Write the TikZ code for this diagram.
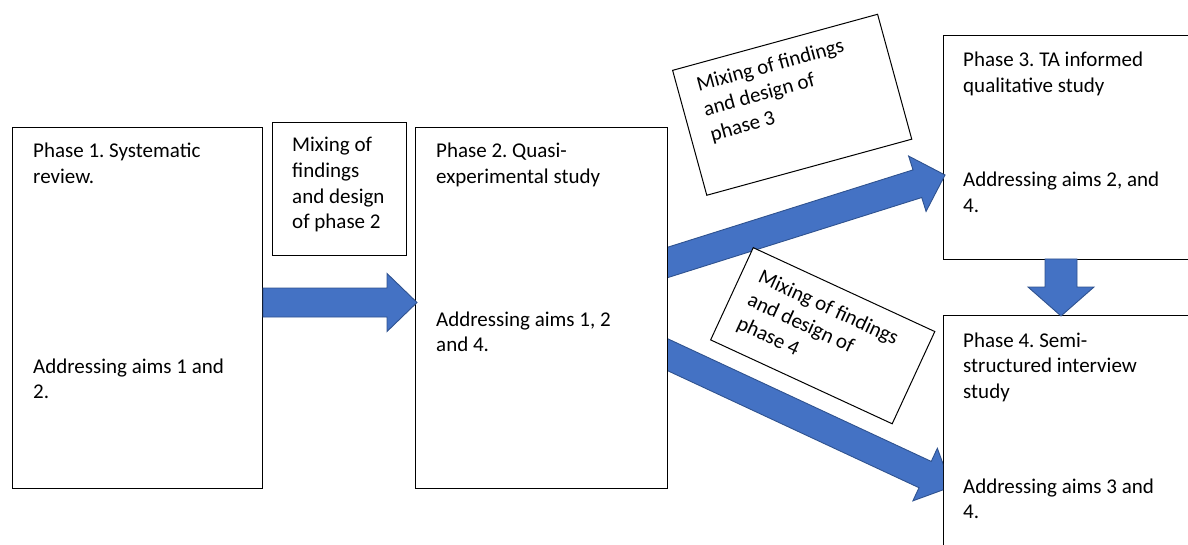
\documentclass[tikz,border=0pt]{standalone}
\usepackage{fontspec}
\setmainfont{Carlito}
\frenchspacing
\usetikzlibrary{calc}
\definecolor{arrowfill}{HTML}{4472C4}
\definecolor{arrowline}{HTML}{2F528F}
\tikzset{
  box/.style={draw=black, line width=1pt, fill=white, rectangle, inner sep=0pt, anchor=north west},
  txt/.style={font=\fontsize{21}{25.6}\selectfont\frenchspacing, align=left, inner sep=0pt, anchor=base west},
  bluearr/.style={fill=arrowfill, draw=arrowline, line width=0.9pt, line join=miter},
}
% #1 tail, #2 tip, #3 shaft half width, #4 head half width, #5 head length
\newcommand\bluearrow[5]{%
  \coordinate (#1#2c) at ($(#2)!#5!(#1)$);
  \draw[bluearr] ($(#1)!#3!90:(#2)$) -- ($(#1#2c)!#3!90:(#2)$) -- ($(#1#2c)!#4!90:(#2)$)
    -- (#2) -- ($(#1#2c)!#4!-90:(#2)$) -- ($(#1#2c)!#3!-90:(#2)$) -- ($(#1)!#3!-90:(#2)$) -- cycle;
}
\begin{document}
\begin{tikzpicture}[x=1pt, y=-1pt]
\useasboundingbox (0,0) rectangle (1188,545);
\clip (0,0) rectangle (1188,545);

% phase boxes
\node[box, minimum width=250pt, minimum height=361pt] (p1) at (12,127) {};
\node[box, minimum width=252pt, minimum height=361pt] (p2) at (415,127) {};
\node[box, minimum width=134pt, minimum height=133pt] (m2) at (272,122) {};
\node[box, minimum width=300pt, minimum height=224pt] (p3) at (943,35) {};
\node[box, minimum width=300pt, minimum height=260pt] (p4) at (943,315) {};

% texts (anchor = baseline of the last line)
\node[txt] (p1t) at (33,183.6) {Phase 1. Systematic\\review.};
\node[txt] (p1a) at (33,398.6) {Addressing aims 1 and\\2.};
\node[txt] (p2t) at (436,183.6) {Phase 2. Quasi-\\experimental study};
\node[txt] (p2a) at (436,351.6) {Addressing aims 1, 2\\and 4.};
\node[txt] (m2t) at (292,228.8) {Mixing of\\findings\\and design\\of phase 2};
\node[txt] (p3t) at (963,92.6) {Phase 3. TA informed\\qualitative study};
\node[txt] (p3a) at (963,212.6) {Addressing aims 2, and\\4.};
\node[txt] (p4t) at (963,398.2) {Phase 4. Semi-\\structured interview\\study};
\node[txt] (p4a) at (963,518.6) {Addressing aims 3 and\\4.};

% arrows
\coordinate (a1s) at (p1.east |- 0,302.5);
\coordinate (a1e) at (417,302.5);
\bluearrow{a1s}{a1e}{14.5pt}{29pt}{30pt}

\coordinate (a2s) at (650,268);
\coordinate (a2e) at (945,175);
\begin{scope}
  \clip (p2.north east) rectangle (p4.south east);
  \bluearrow{a2s}{a2e}{14.5pt}{29pt}{29pt}
\end{scope}

\coordinate (a3s) at (650,346.5);
\coordinate (a3e) at (951.4,486.8);
\begin{scope}
  \clip (p2.north east) rectangle (p4.south west);
  \bluearrow{a3s}{a3e}{14.5pt}{29pt}{29pt}
\end{scope}

\coordinate (a4s) at (1061,259);
\coordinate (a4e) at (1061,316);
\bluearrow{a4s}{a4e}{16pt}{33pt}{29pt}

% rotated mixing boxes
\begin{scope}[shift={(672,70)}, rotate=15.3, transform shape]
  \node[box, minimum width=212.5pt, minimum height=129.5pt] (m3) at (0,0) {};
  \node[txt] (m3t) at (20,79.2) {Mixing of findings\\and design of\\phase 3};
\end{scope}
\begin{scope}[shift={(753,247)}, rotate=-24.8, transform shape]
  \node[box, minimum width=200pt, minimum height=101.6pt] (m4) at (0,0) {};
  \node[txt] (m4t) at (18,81) {Mixing of findings\\and design of\\phase 4};
\end{scope}
\end{tikzpicture}
\end{document}
